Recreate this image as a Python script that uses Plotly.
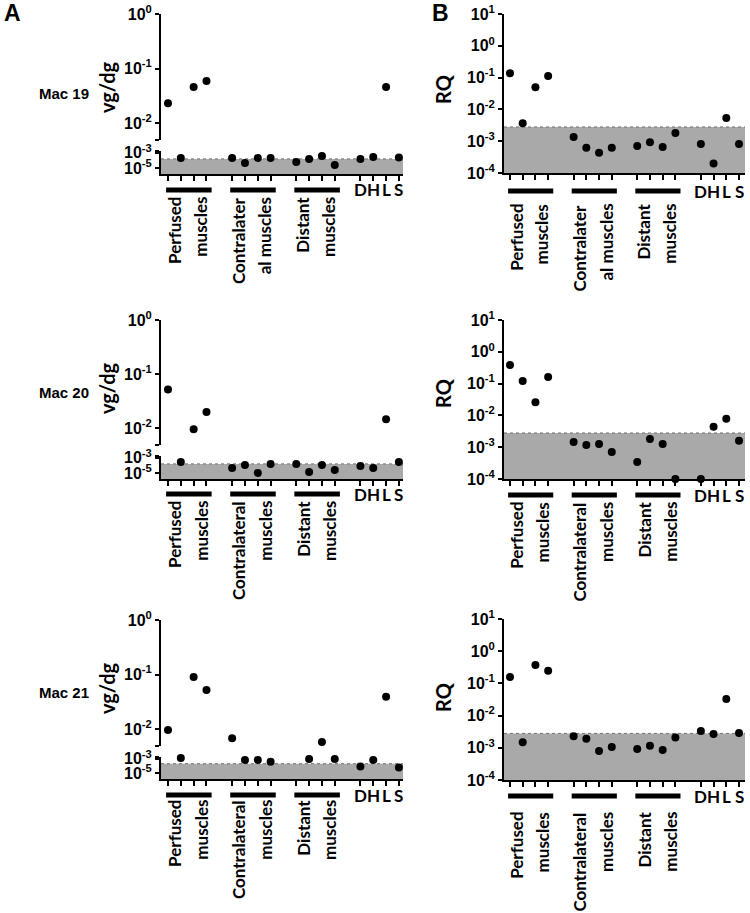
import plotly.graph_objects as go

W, H = 750, 913

# ---------------- data ----------------
row_names = ["Mac 19", "Mac 20", "Mac 21"]
group_labels = [
    [("Perfused", "muscles"), ("Contralater", "al muscles"), ("Distant", "muscles")],
    [("Perfused", "muscles"), ("Contralateral", "muscles"), ("Distant", "muscles")],
    [("Perfused", "muscles"), ("Contralateral", "muscles"), ("Distant", "muscles")],
]
organs = ["D", "H", "L", "S"]

# Panel A: vector genomes per diploid genome (vg/dg)
vg_perfused = [[0.023, 2.1e-4, 0.046, 0.059],
               [0.052, 2.8e-4, 0.0096, 0.020],
               [0.0096, 1.3e-3, 0.090, 0.052]]
vg_contra = [[2.1e-4, 4.6e-5, 2.1e-4, 2.1e-4],
             [4.6e-5, 1.1e-4, 1.0e-5, 1.6e-4],
             [0.0068, 7.1e-4, 7.1e-4, 3.9e-4]]
vg_distant = [[6.2e-5, 1.5e-4, 3.9e-4, 2.5e-5],
              [1.6e-4, 1.35e-5, 1.1e-4, 2.5e-5],
              [1.8e-3, 9.6e-4, 0.0058, 9.6e-4]]
vg_organs = [[1.5e-4, 2.8e-4, 0.046, 2.5e-4],
             [8.3e-5, 4.6e-5, 0.0147, 2.8e-4],
             [8.3e-5, 7.1e-4, 0.039, 6.2e-5]]
vg_lod = [1.6e-4, 1.6e-4, 2.1e-4]
vg_break = 10 ** -2.5

# Panel B: relative quantification (RQ)
rq_perfused = [[0.137, 0.0037, 0.050, 0.112],
               [0.385, 0.12, 0.026, 0.16],
               [0.158, 1.5e-3, 0.37, 0.245]]
rq_contra = [[1.35e-3, 6.2e-4, 4.3e-4, 6.2e-4],
             [1.45e-3, 1.17e-3, 1.26e-3, 7.1e-4],
             [2.3e-3, 1.9e-3, 8.0e-4, 1.05e-3]]
rq_distant = [[7.1e-4, 9.3e-4, 6.6e-4, 1.8e-3],
              [3.4e-4, 1.8e-3, 1.26e-3, 1.0e-4],
              [9.1e-4, 1.15e-3, 8.5e-4, 2.1e-3]]
rq_organs = [[8.1e-4, 2.0e-4, 5.4e-3, 8.1e-4],
             [1.0e-4, 4.4e-3, 7.8e-3, 1.6e-3],
             [3.3e-3, 2.7e-3, 0.033, 2.9e-3]]
rq_lod = 2.8e-3

# ---------------- layout geometry (pixels) ----------------
A_up = [(14, 140), (320, 445), (620, 746)]
A_lo = [(151, 174), (456, 479), (757, 779)]
B_dom = [(14, 173), (320, 479), (619, 780)]
A_x = (161, 403)
B_x = (504, 745)
A_xrange = [-0.545, 18.32]
B_xrange = [-0.47, 18.47]
A_up_range = [-2.31, 0]
A_lo_range = [-5.8, -2.75]
B_range = [-4, 1]
A_bar_y = [190, 494, 795]
B_bar_y = [191, 495, 796]
A_lab_top = [195, 499, 798]
B_lab_top = [202, 500, 810]
mac_y = [93, 393, 692]
vg_title_y = [87, 388, 688]
rq_title_y = [89, 393, 697]

TICKFONT = dict(family="Liberation Sans, Arial", size=16, color="black", weight="bold")
LABFONT = dict(family="Lato", size=17, color="black", weight="bold")
GRAY = "#a9a9a9"


def ydom(t, b):
    return [1 - b / H, 1 - t / H]


def xdom(l, r):
    return [l / W, r / W]


def py(p):
    return 1 - p / H


def px(p):
    return p / W


positions = [g * 5 + j for g in range(3) for j in range(4)] + [15 + k for k in range(4)]
tickpos = positions


def sup(e):
    return "10<sup>%d</sup>" % e


fig = go.Figure()
layout = dict(width=W, height=H, autosize=False,
              margin=dict(l=0, r=0, t=0, b=0, autoexpand=False),
              paper_bgcolor="white", plot_bgcolor="rgba(0,0,0,0)", showlegend=False)
shapes = []
annotations = []

ax_n = 0


def new_axes():
    global ax_n
    ax_n += 1
    return ax_n


def base_y():
    return dict(type="log", showline=True, linecolor="black", linewidth=2, ticks="outside",
                ticklen=4, tickwidth=2, tickcolor="black", showgrid=False, zeroline=False,
                tickfont=TICKFONT, tickmode="array", automargin=False)


def base_x(rng, dom):
    return dict(range=rng, domain=xdom(*dom), showline=True, linecolor="black", linewidth=2,
                ticks="outside", ticklen=5, tickwidth=2, tickcolor="black", showgrid=False,
                zeroline=False, showticklabels=False, tickmode="array", tickvals=tickpos,
                automargin=False)


def add_points(xs, ys, xa, ya):
    if not xs:
        return
    fig.add_trace(go.Scatter(x=xs, y=ys, mode="markers", xaxis=xa, yaxis=ya, cliponaxis=False,
                             marker=dict(size=8, color="black", symbol="circle"),
                             hoverinfo="skip"))


def group_decor(r, xa, bar_y, lab_top, labels):
    for g in range(3):
        start = g * 5
        shapes.append(dict(type="line", xref=xa, yref="paper", x0=start - 0.15, x1=start + 3.4,
                           y0=py(bar_y), y1=py(bar_y), line=dict(color="black", width=5)))
        c = start + 1.5
        for li, off in enumerate([-1.0, 1.05]):
            annotations.append(dict(text=labels[g][li], x=c + off, y=py(lab_top), xref=xa,
                                    yref="paper", xanchor="center", yanchor="top", textangle=-90,
                                    showarrow=False, font=LABFONT))
    for k, o in enumerate(organs):
        annotations.append(dict(text=o, x=15 + k, y=py(bar_y), xref=xa, yref="paper",
                                xanchor="center", yanchor="middle", showarrow=False,
                                font=LABFONT))


for r in range(3):
    # ---------- Panel A (broken axis) ----------
    vals = vg_perfused[r] + vg_contra[r] + vg_distant[r] + vg_organs[r]
    nu = new_axes()
    nl = new_axes()
    xu, yu, xl, yl = "x%d" % nu, "y%d" % nu, "x%d" % nl, "y%d" % nl
    layout["xaxis%d" % nu] = dict(base_x(A_xrange, A_x), visible=False, anchor=yu)
    layout["xaxis%d" % nl] = dict(base_x(A_xrange, A_x), anchor=yl)
    up_ticks = [0, -1, -2]
    layout["yaxis%d" % nu] = dict(base_y(), range=A_up_range, domain=ydom(*A_up[r]), anchor=xu,
                                  tickvals=[10 ** e for e in up_ticks] + [10 ** (A_up_range[0] + 0.005)],
                                  ticktext=[sup(e) for e in up_ticks] + [""])
    lo_ticks = [-3, -5]
    layout["yaxis%d" % nl] = dict(base_y(), range=A_lo_range, domain=ydom(*A_lo[r]), anchor=xl,
                                  tickvals=[10 ** (A_lo_range[1] - 0.005)] + [10 ** e for e in lo_ticks],
                                  ticktext=[""] + [sup(e) for e in lo_ticks])
    hi = [(p, v) for p, v in zip(positions, vals) if v >= vg_break]
    lo = [(p, v) for p, v in zip(positions, vals) if v < vg_break]
    shapes.append(dict(type="rect", xref=xl + " domain", yref=yl, x0=0, x1=1,
                       y0=10 ** A_lo_range[0], y1=vg_lod[r], fillcolor=GRAY, line=dict(width=0),
                       layer="below"))
    shapes.append(dict(type="line", xref=xl + " domain", yref=yl, x0=0, x1=1,
                       y0=vg_lod[r], y1=vg_lod[r], line=dict(color="#707070", width=1, dash="dot"),
                       layer="below"))
    add_points([p for p, v in hi], [v for p, v in hi], xu, yu)
    add_points([p for p, v in lo], [v for p, v in lo], xl, yl)
    group_decor(r, xl, A_bar_y[r], A_lab_top[r], group_labels[r])

    # ---------- Panel B ----------
    vals = rq_perfused[r] + rq_contra[r] + rq_distant[r] + rq_organs[r]
    nb = new_axes()
    xb, yb = "x%d" % nb, "y%d" % nb
    layout["xaxis%d" % nb] = dict(base_x(B_xrange, B_x), anchor=yb)
    b_ticks = [1, 0, -1, -2, -3, -4]
    layout["yaxis%d" % nb] = dict(base_y(), range=B_range, domain=ydom(*B_dom[r]), anchor=xb,
                                  tickvals=[10 ** e for e in b_ticks],
                                  ticktext=[sup(e) for e in b_ticks])
    shapes.append(dict(type="rect", xref=xb + " domain", yref=yb, x0=0, x1=1,
                       y0=10 ** B_range[0], y1=rq_lod, fillcolor=GRAY, line=dict(width=0),
                       layer="below"))
    shapes.append(dict(type="line", xref=xb + " domain", yref=yb, x0=0, x1=1,
                       y0=rq_lod, y1=rq_lod, line=dict(color="#707070", width=1, dash="dot"),
                       layer="below"))
    add_points(positions, vals, xb, yb)
    group_decor(r, xb, B_bar_y[r], B_lab_top[r], group_labels[r])

    # ---------- row texts ----------
    annotations.append(dict(text=row_names[r], x=px(37), y=py(mac_y[r]), xref="paper", yref="paper",
                            xanchor="left", yanchor="middle", showarrow=False,
                            font=dict(family="Liberation Sans, Arial", size=15, color="black",
                                      weight="bold")))
    annotations.append(dict(text="vg/dg", x=px(107), y=py(vg_title_y[r]), xref="paper", yref="paper",
                            xanchor="center", yanchor="middle", textangle=-90, showarrow=False,
                            font=dict(family="Lato", size=20, color="black", weight="bold")))
    annotations.append(dict(text="RQ", x=px(443), y=py(rq_title_y[r]), xref="paper", yref="paper",
                            xanchor="center", yanchor="middle", textangle=-90, showarrow=False,
                            font=dict(family="Lato", size=20, color="black", weight="bold")))

for letter, xl_ in [("A", 2), ("B", 430)]:
    annotations.append(dict(text=letter, x=px(xl_), y=py(-2), xref="paper", yref="paper",
                            xanchor="left", yanchor="top", showarrow=False,
                            font=dict(family="Liberation Sans, Arial", size=23, color="black",
                                      weight="bold")))

layout["shapes"] = shapes
layout["annotations"] = annotations
fig.update_layout(**layout)
fig.write_html("out.html",
               config={"displayModeBar": False, "staticPlot": True},
               post_script="document.body.style.margin='0';document.body.style.overflow='hidden';")
